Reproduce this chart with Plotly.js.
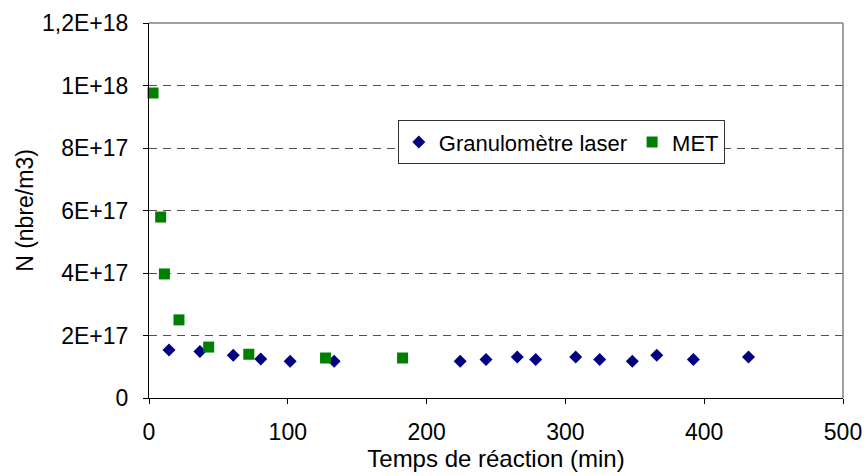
<!DOCTYPE html>
<html>
<head>
<meta charset="utf-8">
<script src="https://cdn.plot.ly/plotly-3.0.1.min.js"></script>
<style>html,body{margin:0;padding:0;background:#fff;}#chart{width:864px;height:476px;}</style>
</head>
<body>
<div id="chart"></div>
<script>
// Granulomètre laser
const granuloTime = [14.4, 36.7, 60.7, 80.5, 101.7, 133.4, 224.2, 242.8, 265.3, 278.6, 307.4, 324.7, 348.2, 365.8, 392.2, 431.9];
const granuloN    = [1.54e17, 1.49e17, 1.37e17, 1.25e17, 1.18e17, 1.18e17, 1.18e17, 1.23e17, 1.31e17, 1.23e17, 1.31e17, 1.23e17, 1.18e17, 1.37e17, 1.23e17, 1.31e17];
// MET
const metTime = [2.9, 8.4, 11.1, 21.6, 43, 71.9, 127.2, 182.7];
const metN    = [9.76e17, 5.79e17, 3.97e17, 2.50e17, 1.63e17, 1.40e17, 1.28e17, 1.28e17];
// Axis ticks
const yTickVals = [0, 2e17, 4e17, 6e17, 8e17, 1e18, 1.2e18];
const yTickText = ["0", "2E+17", "4E+17", "6E+17", "8E+17", "1E+18", "1,2E+18"];
const xTickVals = [0, 100, 200, 300, 400, 500];

const FONT = "Liberation Sans, Arial, sans-serif";

const traces = [
  {x: granuloTime, y: granuloN, type: "scatter", mode: "markers", name: "Granulomètre laser",
   marker: {symbol: "diamond", size: 10, color: "#000080"}, cliponaxis: false},
  {x: metTime, y: metN, type: "scatter", mode: "markers", name: "MET",
   marker: {symbol: "square", size: 11, color: "#008000"}, cliponaxis: false}
];

const layout = {
  width: 864, height: 476,
  margin: {l: 149, r: 21, t: 23, b: 78, pad: 0},
  paper_bgcolor: "#fff", plot_bgcolor: "#fff",
  font: {family: FONT, size: 23, color: "#000"},
  showlegend: true,
  legend: {
    x: 0.3585, y: 0.741, xanchor: "left", yanchor: "top",
    orientation: "h", bgcolor: "#fff", bordercolor: "#333", borderwidth: 1,
    font: {family: FONT, size: 22, color: "#000"}
  },
  xaxis: {
    range: [0, 500], tickvals: xTickVals, ticks: "outside", ticklen: 5, tickcolor: "#000",
    showline: true, linecolor: "#000", linewidth: 1, showgrid: false, zeroline: false,
    ticklabelstandoff: 8,
    tickfont: {family: FONT, size: 23}, fixedrange: true,
    title: {text: "Temps de réaction (min)", font: {family: FONT, size: 24}, standoff: 5}
  },
  yaxis: {
    range: [0, 1.2e18], tickvals: yTickVals, ticktext: yTickText, ticks: "outside", ticklen: 5, tickcolor: "#000",
    showline: true, linecolor: "#000", linewidth: 1, zeroline: false,
    showgrid: true, gridcolor: "#505050", gridwidth: 1, griddash: "8px,6px",
    ticklabelstandoff: 10,
    tickfont: {family: FONT, size: 23}, fixedrange: true,
    title: {text: "N (nbre/m3)", font: {family: FONT, size: 23}, standoff: 2}
  },
  shapes: [
    {type: "line", xref: "paper", yref: "paper", x0: 0, x1: 1, y0: 1, y1: 1, line: {color: "#808080", width: 1.5}, layer: "above"},
    {type: "line", xref: "paper", yref: "paper", x0: 1, x1: 1, y0: 0, y1: 1, line: {color: "#808080", width: 1.5}, layer: "above"}
  ]
};

Plotly.newPlot("chart", traces, layout, {displayModeBar: false, staticPlot: true});
</script>
</body>
</html>
